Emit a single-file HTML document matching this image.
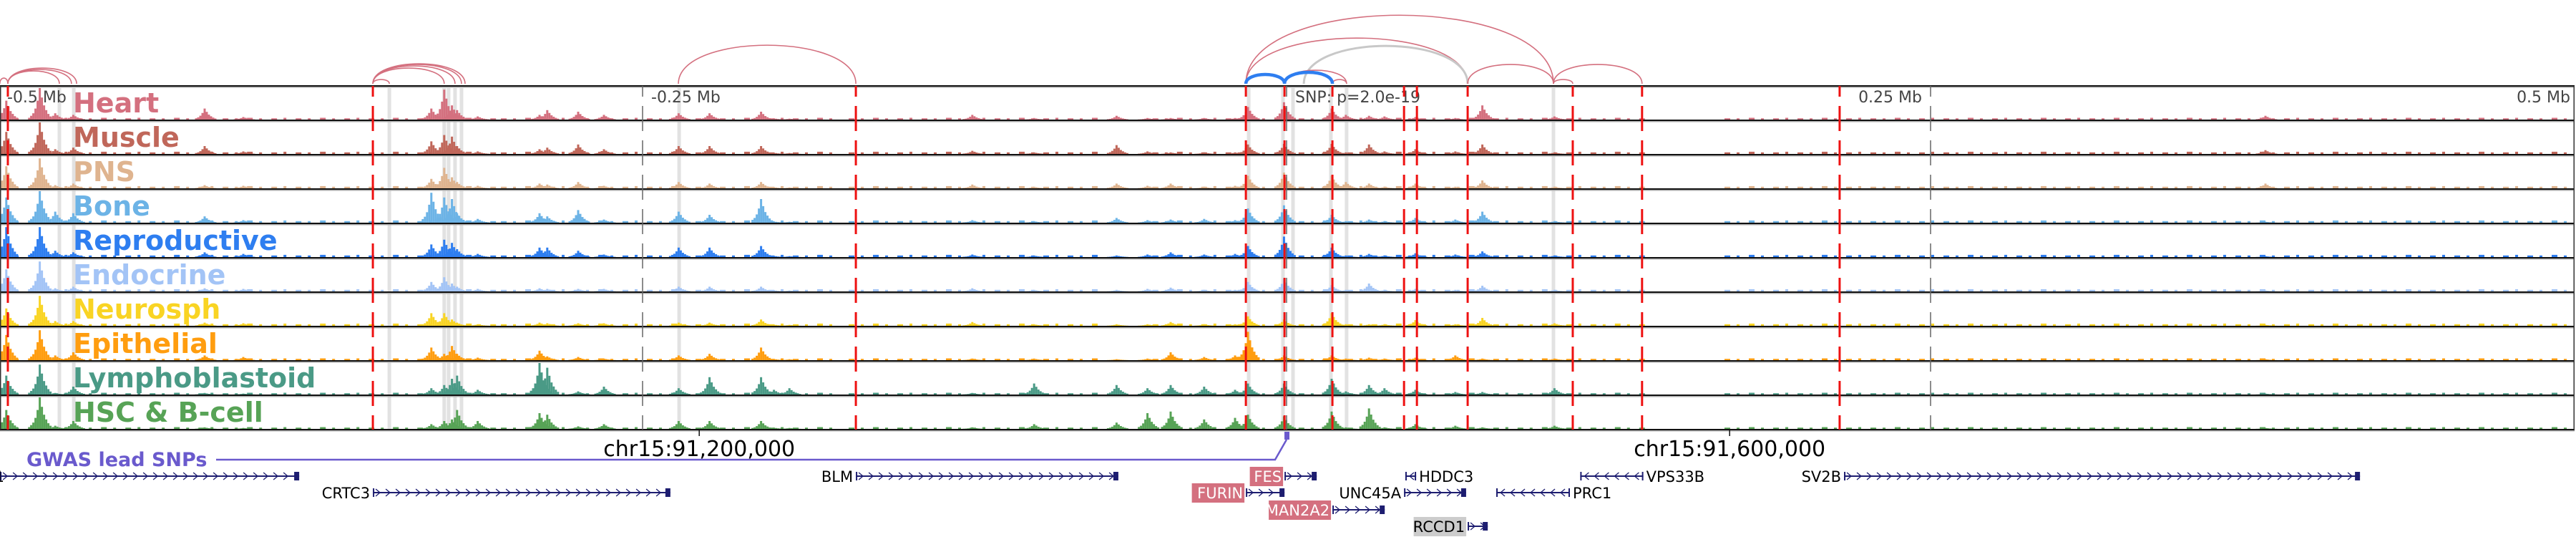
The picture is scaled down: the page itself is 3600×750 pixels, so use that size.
<!DOCTYPE html>
<html><head><meta charset="utf-8">
<style>
html,body{margin:0;padding:0;background:#fff;width:3600px;height:750px;overflow:hidden}
svg{display:block;font-family:"DejaVu Sans","Liberation Sans",sans-serif}
</style></head>
<body>
<svg id="chart" width="3600" height="750" viewBox="0 0 3600 750" xmlns="http://www.w3.org/2000/svg"></svg>
<script>
// ---- data ----
const trackNames = ["Heart","Muscle","PNS","Bone","Reproductive","Endocrine","Neurosph","Epithelial","Lymphoblastoid","HSC & B-cell"];
const trackColors = ["#d4707f","#c0675a","#dfb48f","#6cb3e6","#2e7ef0","#a3c4f6","#f9d423","#ff9d0f","#4a9a86","#57a356"];
// peak positions, kb relative to lead SNP
const peakKb = [-497,-484,-478,-471,-420,-405,-332,-327,-324,-322,-314,-290,-287,-275,-265,-236,-224,-204,-199,-193,-122,-98,-66,-54,-45,-32,-20,-15,-1,17.5,23,32,38,50,65.5,76,104,380];
// per-track peak signal (0-100)
const heartVals = [60,100,20,15,35,8,35,95,45,30,10,15,30,25,15,20,20,25,4,3,15,5,12,5,5,5,5,40,55,35,15,12,10,8,5,45,10,12];
const muscleVals= [70,100,15,20,25,8,40,60,55,25,8,15,20,30,15,25,25,25,4,3,10,5,28,8,5,5,5,30,32,32,5,30,8,15,8,30,5,12];
const pnsVals   = [70,95,10,15,10,8,30,65,35,20,8,15,12,20,8,20,15,20,4,3,12,5,15,8,15,5,8,40,50,40,20,15,5,15,5,25,5,15];
const boneVals  = [80,100,35,30,20,8,95,80,75,30,12,30,20,40,10,35,25,75,4,3,8,5,15,8,10,12,8,45,55,25,5,10,5,15,10,35,5,3];
const reproVals = [95,95,20,15,15,10,40,55,45,25,10,30,30,20,8,30,30,35,4,3,8,5,5,8,15,8,10,35,65,30,5,10,5,12,8,18,5,3];
const endoVals  = [70,95,10,15,10,8,30,45,25,15,8,10,8,8,8,15,15,15,4,3,10,5,5,8,12,5,5,30,40,20,5,25,5,8,5,18,5,3];
const neuroVals = [55,95,15,15,10,8,40,40,20,10,5,10,8,8,8,10,10,20,4,3,12,5,5,5,12,5,5,30,20,40,5,5,5,18,5,25,8,3];
const epiVals   = [80,95,15,25,15,10,40,20,45,20,8,30,12,10,5,15,20,40,4,3,5,5,3,5,25,10,15,90,15,15,5,8,5,8,15,5,5,3];
const lymphVals = [60,95,5,25,5,3,20,30,50,60,15,100,85,10,25,20,55,55,15,20,5,35,30,20,30,25,15,35,35,50,10,30,20,15,8,8,20,3];
const hscVals   = [60,100,10,25,5,3,15,25,30,60,25,50,45,8,15,25,25,25,4,3,5,15,20,50,55,30,35,45,40,55,5,65,5,15,10,5,10,3];
const trackVals = [heartVals,muscleVals,pnsVals,boneVals,reproVals,endoVals,neuroVals,epiVals,lymphVals,hscVals];
const bgLevels = [4,5,5,5,5,5,5,4,4,4];
const bgSegKb = [[-498,-305],[-305,-174],[-170,-72],[-52,139],[170,498]];
const redLineKb = [-496.4,-354.7,-167.2,-15.8,-0.8,17.8,45.6,50.6,70.3,111.1,138,214.7];
const grayBandKb = [-476.4,-470.8,-348.3,-327,-325.3,-322.8,-320.3,-235.8,-14.7,-1.4,2.5,17.2,23.3,103.6];
const axisTickKb = [-500,-250,0,250,500];
const axisTickLabels = ["-0.5 Mb","-0.25 Mb","SNP: p=2.0e-19","0.25 Mb","0.5 Mb"];
// arcs: start kb, end kb, height, kind
const arcStart = [-496.4,-496.4,-496.4,-499.5,-354.7,-354.7,-354.7,-354.7,-354.7,-236.1,-15.8,-15.8,6.7,-0.8,17.8,70.3,103.6,103.6,-15.8,-0.8];
const arcEnd   = [-476.4,-471.7,-469.7,-496.4,-348.3,-327,-322.8,-320.3,-318.9,-167.2,103.6,70.3,70.3,23.3,23.3,103.6,111.1,138,-0.8,17.8];
const arcHeight= [18,20,22,8,6,22,25,27,28,54,96,64,53,19,6,27,6,27,13,16];
const arcKind  = ["p","p","p","p","p","p","p","p","p","p","p","p","g","p","p","p","p","p","b","b"];
const genomicTickLabels = ["chr15:91,200,000","chr15:91,600,000"];
const genomicTickKb = [-228,172];
const geneNames = ["1","CRTC3","BLM","FES","FURIN","MAN2A2","UNC45A","RCCD1","HDDC3","PRC1","VPS33B","SV2B"];
const geneStartKb = [-499.4,-354.7,-167.2,-0.8,-15.8,17.8,45.6,70.3,46.1,81.4,114,216.4];
const geneEndKb   = [-383.3,-239.2,-65.3,11.7,-0.8,38.1,69.7,78.1,50.3,110,138.5,416.7];
const geneRow = [0,1,0,0,1,2,1,3,0,1,0,0];
const geneStrand = [1,1,1,1,1,1,1,1,-1,-1,-1,1];
const geneLabelSide = ["L","L","L","L","L","L","L","L","R","R","R","L"];
const geneHighlight = ["","","","pink","pink","pink","","gray","","","",""];

// ---- scales ----
const X0 = 1798, PX_PER_KB = 3.6;
const xScale = kb => X0 + kb*PX_PER_KB;
const TRACK_TOP = 120, TRACK_H = 48, MAXH = 44;
const yScale = (t,v) => TRACK_TOP + (t+1)*TRACK_H - 1 - v/100*MAXH;
const NS = "http://www.w3.org/2000/svg";
const svg = document.getElementById("chart");
function mk(tag, attrs, parent){ const e=document.createElementNS(NS,tag); for(const k in attrs) e.setAttribute(k,attrs[k]); (parent||svg).appendChild(e); return e; }

// gray highlight bands
const bandG = mk("g",{});


grayBandKb.forEach(k=>{
  const r = mk("rect",{x:xScale(k)-2.5,y:TRACK_TOP+3,width:5,height:TRACK_H*10-4,fill:"#e2e2e2"},bandG);
  
  
});

// signal tracks
const shape=[0.12,0.2,0.35,0.6,1,0.7,0.45,0.3,0.18,0.1];
trackNames.forEach((name,t)=>{
  const g = mk("g",{fill:trackColors[t]});
  
  
  const base = yScale(t,0);
  bgSegKb.forEach(seg=>{
    let n=0;
    for(let x=xScale(seg[0]); x<xScale(seg[1]); x+=17){
      n++;
      const h = bgLevels[t]/100*MAXH*((n%3===0)?1.4:1);
      const r = mk("rect",{x:x,y:base-h,width:(n%2)?8:4,height:h},g);
      
      
    }
  });
  peakKb.forEach((k,i)=>{
    const v = trackVals[t][i];
    shape.forEach((s,j)=>{
      const y = yScale(t,v*s);
      const r = mk("rect",{x:xScale(k)+(j-4)*3-1.5,y:y,width:3,height:base-y},g);
      
      
    });
  });
  const lbl = mk("text",{x:102,y:TRACK_TOP+t*TRACK_H+37,"font-size":38,"font-weight":"bold",fill:trackColors[t]},g);
  lbl.textContent = name;
  
  
});

// track borders
for(let i=0;i<=10;i++){
  const y=TRACK_TOP+i*TRACK_H;
  const l = mk("rect",{x:0,y:y-1,width:3598,height:2,fill:"#111"});
  
  
  const l2 = mk("rect",{x:0,y:y+1,width:3598,height:1.5,fill:"#aaa"});
  
  
}
const lb = mk("rect",{x:0,y:TRACK_TOP,width:1.5,height:480,fill:"#333"});


const rb = mk("rect",{x:3596.5,y:TRACK_TOP,width:1.5,height:480,fill:"#333"});



// gray dashed axis lines and labels
axisTickKb.forEach((k,i)=>{
  const x=xScale(k);
  if(k>-500 && k<500){
    const l = mk("line",{x1:x,x2:x,y1:TRACK_TOP,y2:600,stroke:"#666","stroke-width":1.5,"stroke-dasharray":"35,13","stroke-dashoffset":20});
    
    
  }
  let anchor="start", tx=x+12;
  if(k===-500){tx=10;}
  if(k===250){anchor="end"; tx=x-12;}
  if(k===500){anchor="end"; tx=3592;}
  const t = mk("text",{x:tx,y:143,"font-size":22,fill:"#444","text-anchor":anchor});
  t.textContent = axisTickLabels[i];
  
  
});

// red dashed lines
redLineKb.forEach(k=>{
  const l = mk("line",{x1:xScale(k),x2:xScale(k),y1:TRACK_TOP,y2:600,stroke:"#ee1111","stroke-width":3,"stroke-dasharray":"35,13","stroke-dashoffset":20});
  
  
});

// arcs
const ARC_BASE = 117;
arcStart.forEach((s,i)=>{
  const x1=xScale(s), x2=xScale(arcEnd[i]), h=arcHeight[i]*1.33;
  const kind=arcKind[i];
  const col = kind==="b"?"#2e7ef0":(kind==="g"?"#c8c8c8":"#d4707f");
  const w = kind==="b"?4.5:(kind==="g"?3:1.6);
  const p = mk("path",{d:`M${x1},${ARC_BASE} C${x1},${ARC_BASE-h} ${x2},${ARC_BASE-h} ${x2},${ARC_BASE}`,fill:"none",stroke:col,"stroke-width":w});
  
  
});

// genomic axis
genomicTickKb.forEach((k,i)=>{
  const x=xScale(k);
  const tk = mk("line",{x1:x,x2:x,y1:601,y2:609,stroke:"#111","stroke-width":1.5});
  
  
  const t = mk("text",{x:x,y:637,"font-size":30,fill:"#000","text-anchor":"middle"});
  t.textContent = genomicTickLabels[i];
  
  
});

// GWAS lead SNPs
const gw = mk("text",{x:37,y:651,"font-size":27,"font-weight":"bold",fill:"#6a5acd"});
gw.textContent = "GWAS lead SNPs";


const gl = mk("path",{d:`M302,642 L1782,642 L${xScale(0)},614`,fill:"none",stroke:"#6a5acd","stroke-width":2.5});


const gs = mk("rect",{x:xScale(0)-3,y:603,width:7,height:11,fill:"#6a5acd"});



// genes
const rowY=[665,688,712,735];
geneNames.forEach((n,i)=>{
  const g = mk("g",{});
  
  
  const x1=xScale(geneStartKb[i]), x2=xScale(geneEndKb[i]), y=rowY[geneRow[i]];
  const ln = mk("line",{x1:x1,x2:x2,y1:y,y2:y,stroke:"#1d1d70","stroke-width":2},g);
  
  
  const dir=geneStrand[i];
  for(let x=x1+8;x<x2-6;x+=14){
    const c = mk("path",{d:`M${x-dir*4},${y-5} L${x+dir*2},${y} L${x-dir*4},${y+5}`,fill:"none",stroke:"#1d1d70","stroke-width":1.3},g);
    
    
  }
  const ex1 = mk("rect",{x:x1,y:y-6,width:2,height:12,fill:"#1d1d70"},g);
  
  
  const ex2 = mk("rect",{x:dir>0?x2-7:x2-2,y:y-6,width:dir>0?7:2,height:12,fill:"#1d1d70"},g);
  
  
  const side=geneLabelSide[i];
  let tx = side==="L"? x1-4 : x2+4;
  if(i===0) tx = 6;
  const t = mk("text",{x:tx,y:y+8,"font-size":21,fill:geneHighlight[i]==="pink"?"#fff":"#000","text-anchor":side==="L"?"end":"start"},g);
  t.textContent = n;
  
  
  if(geneHighlight[i]){
    const w = n.length*13.5+4;
    const bg = mk("rect",{x:tx-w,y:y-13,width:w+2,height:27,fill:geneHighlight[i]==="pink"?"#d4707f":"#cccccc"});
    g.insertBefore(bg,t);
    
    
  }
});
</script>
</body></html>
